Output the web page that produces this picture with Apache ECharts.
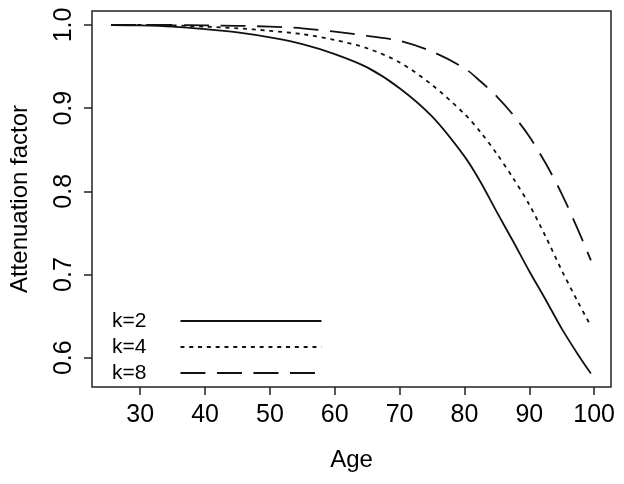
<!DOCTYPE html>
<html>
<head>
<meta charset="utf-8">
<script src="https://cdn.jsdelivr.net/npm/echarts@6/dist/echarts.min.js"></script>
<style>html,body{margin:0;padding:0;background:#fff}#c{width:624px;height:484px}</style>
</head>
<body>
<div id="c"></div>
<script>
const ages = [25.5, 30, 35, 40, 45, 50, 55, 60, 65, 70, 75, 80, 82.5, 85, 87.5, 90, 92.5, 95, 97.5, 99.5];
const k2 = [1.000, 0.9995, 0.998, 0.995, 0.991, 0.985, 0.977, 0.965, 0.949, 0.924, 0.890, 0.842, 0.811, 0.775, 0.740, 0.704, 0.670, 0.635, 0.604, 0.581];
const k4 = [1.000, 1.000, 0.9995, 0.998, 0.996, 0.993, 0.989, 0.982, 0.972, 0.955, 0.928, 0.893, 0.871, 0.845, 0.816, 0.784, 0.746, 0.705, 0.667, 0.638];
const k8 = [1.000, 1.000, 1.000, 0.9995, 0.999, 0.998, 0.996, 0.992, 0.987, 0.981, 0.968, 0.948, 0.932, 0.914, 0.892, 0.866, 0.834, 0.797, 0.754, 0.717];
const seriesNames = ['k=2', 'k=4', 'k=8'];
const xTicks = [30, 40, 50, 60, 70, 80, 90, 100];
const yTicks = [0.6, 0.7, 0.8, 0.9, 1.0];

const FONT = 'Liberation Sans, Arial, Helvetica, sans-serif';
const pair = (ys) => ages.map((a, i) => [a, ys[i]]);
const dashes = ['solid', [4, 4.8], [25, 11.5]];
const allSeries = [k2, k4, k8].map((ys, i) => ({
  name: seriesNames[i],
  type: 'line',
  data: pair(ys),
  symbol: 'none',
  smooth: 0.3,
  lineStyle: { color: '#111', width: 1.8, type: dashes[i], cap: 'butt' },
  itemStyle: { color: '#111' },
  emphasis: { disabled: true },
  silent: true
}));

const chart = echarts.init(document.getElementById('c'), null, { renderer: 'canvas' });
chart.setOption({
  animation: false,
  backgroundColor: '#fff',
  grid: { left: 91, right: 13, top: 11, bottom: 97, show: true, borderColor: '#222', borderWidth: 1.5, backgroundColor: 'transparent' },
  xAxis: {
    type: 'value', min: 22.56, max: 102.6,
    name: 'Age', nameLocation: 'middle', nameGap: 61,
    nameTextStyle: { fontFamily: FONT, fontSize: 24, color: '#000' },
    axisLine: { show: false },
    splitLine: { show: false },
    axisTick: { show: true, inside: false, length: 8, customValues: xTicks, lineStyle: { color: '#222', width: 1.5 } },
    axisLabel: { customValues: xTicks, margin: 16, fontFamily: FONT, fontSize: 25, color: '#000', formatter: v => String(v) }
  },
  yAxis: {
    type: 'value', min: 0.5648, max: 1.0168,
    name: 'Attenuation factor', nameLocation: 'middle', nameGap: 60, nameRotate: 90,
    nameTextStyle: { fontFamily: FONT, fontSize: 24, color: '#000' },
    axisLine: { show: false },
    splitLine: { show: false },
    axisTick: { show: true, inside: false, length: 8, customValues: yTicks, lineStyle: { color: '#222', width: 1.5 } },
    axisLabel: { customValues: yTicks, rotate: 90, margin: 15, fontFamily: FONT, fontSize: 25, color: '#000', formatter: v => v.toFixed(1) }
  },
  legend: {
    orient: 'vertical', left: 107, top: 303, align: 'right',
    itemWidth: 141, itemHeight: 14, itemGap: 0,
    selectedMode: false,
    textStyle: { fontFamily: FONT, fontSize: 21, color: '#000', lineHeight: 26, padding: [0, 29, 0, 0] },
    itemStyle: { opacity: 0 },
    data: seriesNames
  },
  series: allSeries
});
</script>
</body>
</html>
